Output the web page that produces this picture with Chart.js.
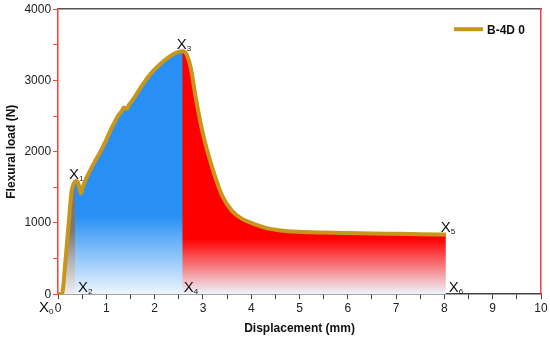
<!DOCTYPE html>
<html>
<head>
<meta charset="utf-8">
<script src="https://cdn.jsdelivr.net/npm/chart.js@4.4.0/dist/chart.umd.min.js"></script>
<style>
  html, body { margin: 0; padding: 0; background: #fff; }
  canvas { display: block; }
</style>
</head>
<body>
<canvas id="flexChart" width="550" height="338"></canvas>
<script>
// Displacement (mm) and flexural load (N)
const displacement = [0, 0.08, 0.15, 0.22, 0.28, 0.33, 0.38, 0.42, 0.47, 0.52, 0.6, 0.75, 0.9, 1.0, 1.1, 1.25, 1.32, 1.36, 1.42, 1.47, 1.55, 1.7, 1.9, 2.1, 2.3, 2.45, 2.58, 2.65, 2.75, 2.85, 3.0, 3.2, 3.4, 3.6, 3.8, 4.0, 4.3, 4.6, 5.0, 5.5, 6.0, 6.5, 7.0, 7.5, 8.03];
const load = [0, 0, 450, 1000, 1450, 1560, 1590, 1550, 1410, 1520, 1650, 1850, 2030, 2170, 2320, 2510, 2570, 2620, 2600, 2660, 2730, 2890, 3080, 3220, 3330, 3390, 3410, 3380, 3170, 2760, 2250, 1760, 1380, 1170, 1060, 1000, 930, 895, 875, 865, 858, 852, 848, 843, 838];

// Stage boundaries (mm) used for the coloured regions
const stageEdges = [0.08, 0.35, 2.58, 8.03];

// Point labels: name, subscript, anchor displacement, anchor load
const markNames = ['X', 'X', 'X', 'X', 'X', 'X', 'X'];
const markSubs = ['0', '1', '2', '3', '4', '5', '6'];
const markX = [0, 0.35, 0.35, 2.58, 2.58, 8.03, 8.03];
const markY = [0, 1590, 0, 3410, 0, 838, 0];

const seriesName = 'B-4D 0';
const xTicksMax = 10;
const yTicksMax = 4000;

const points = displacement.map((d, i) => ({ x: d, y: load[i] }));

function segment(from, to) {
    // Points of the curve inside one stage, interpolating the edges
    const out = [];
    const at = v => {
        for (let i = 1; i < displacement.length; i++) {
            if (displacement[i] >= v) {
                const t = (v - displacement[i - 1]) / (displacement[i] - displacement[i - 1]);
                return load[i - 1] + t * (load[i] - load[i - 1]);
            }
        }
        return load[load.length - 1];
    };
    out.push({ x: from, y: at(from) });
    points.forEach(p => { if (p.x > from && p.x < to) out.push(p); });
    out.push({ x: to, y: at(to) });
    return out;
}

function fader(top, solidTo, colour, light) {
    return (ctx) => {
        const chart = ctx.chart;
        const { chartArea, scales } = chart;
        if (!chartArea) return colour;
        const y0 = scales.y.getPixelForValue(top);
        const y1 = scales.y.getPixelForValue(0);
        const g = chart.ctx.createLinearGradient(0, y0, 0, y1);
        const s = (scales.y.getPixelForValue(solidTo) - y0) / (y1 - y0);
        g.addColorStop(0, colour);
        g.addColorStop(Math.max(0, Math.min(1, s)), colour);
        g.addColorStop(1, light);
        return g;
    };
}

const fillBase = {
    borderWidth: 0,
    pointRadius: 0,
    fill: 'origin',
    tension: 0,
};

const markLabels = {
    id: 'markLabels',
    afterDatasetsDraw(chart) {
        const { ctx, scales } = chart;
        // pixel offsets of the text from each anchor
        const off = [[-19, 18], [-6, -2], [3, -2], [-6, -2], [1, -2], [-5, -2], [3, -2]];
        ctx.save();
        ctx.fillStyle = '#111';
        ctx.textBaseline = 'alphabetic';
        markNames.forEach((n, i) => {
            const px = scales.x.getPixelForValue(markX[i]) + off[i][0];
            const py = scales.y.getPixelForValue(markY[i]) + off[i][1];
            ctx.font = '15px "Liberation Sans", Arial, sans-serif';
            ctx.fillText(n, px, py);
            const w = ctx.measureText(n).width;
            ctx.font = '8px "Liberation Sans", Arial, sans-serif';
            ctx.fillText(markSubs[i], px + w, py + 2);
        });
        ctx.restore();
    }
};

const insideLegend = {
    id: 'insideLegend',
    afterDraw(chart) {
        const { ctx, chartArea } = chart;
        const x = chartArea.right - 87;
        const y = chartArea.top + 20;
        ctx.save();
        ctx.strokeStyle = '#c8961a';
        ctx.lineWidth = 4;
        ctx.beginPath();
        ctx.moveTo(x, y);
        ctx.lineTo(x + 29, y);
        ctx.stroke();
        ctx.fillStyle = '#111';
        ctx.font = 'bold 12px "Liberation Sans", Arial, sans-serif';
        ctx.textBaseline = 'middle';
        ctx.fillText(seriesName, x + 33, y + 1);
        ctx.restore();
    }
};

const ctx = document.getElementById('flexChart').getContext('2d');
new Chart(ctx, {
    type: 'line',
    data: {
        datasets: [
            {
                label: seriesName,
                data: points,
                borderColor: '#c8961a',
                borderWidth: 4,
                pointRadius: 0,
                fill: false,
                cubicInterpolationMode: 'monotone',
            },
            Object.assign({}, fillBase, {
                data: segment(stageEdges[0], stageEdges[1]),
                backgroundColor: fader(1600, 900, 'rgb(120,120,120)', 'rgb(240,240,240)'),
            }),
            Object.assign({}, fillBase, {
                data: segment(stageEdges[1], stageEdges[2]),
                cubicInterpolationMode: 'monotone',
                backgroundColor: fader(3500, 1100, 'rgb(40,144,245)', 'rgb(238,246,253)'),
            }),
            Object.assign({}, fillBase, {
                // starts a hair early so it tucks under the blue and leaves no seam
                data: segment(stageEdges[2] - 0.02, stageEdges[3]),
                cubicInterpolationMode: 'monotone',
                backgroundColor: fader(3500, 780, 'rgb(255,0,0)', 'rgb(238,246,253)'),
            }),
        ]
    },
    options: {
        responsive: false,
        animation: false,
        layout: { padding: { top: 8, right: 9, left: 4, bottom: 2 } },
        plugins: {
            legend: { display: false },
            tooltip: { enabled: false },
        },
        scales: {
            x: {
                type: 'linear',
                min: 0,
                max: xTicksMax,
                ticks: {
                    stepSize: 0.5,
                    autoSkip: false,
                    maxRotation: 0,
                    color: '#222',
                    font: { size: 12, family: '"Liberation Sans", Arial' },
                    padding: 2,
                    callback: v => (v % 1 === 0 ? v : ''),
                },
                grid: { drawOnChartArea: false, color: '#444', tickLength: 5 },
                border: { color: '#444', width: 1.5 },
                title: {
                    display: true,
                    text: 'Displacement (mm)',
                    color: '#111',
                    font: { size: 12, weight: 'bold', family: '"Liberation Sans", Arial' },
                    padding: { top: 4, bottom: 0 },
                },
            },
            xTop: {
                type: 'linear',
                position: 'top',
                min: 0,
                max: xTicksMax,
                ticks: { display: false },
                grid: { display: false, drawTicks: false },
                border: { color: '#555', width: 1.5 },
            },
            y: {
                min: 0,
                max: yTicksMax,
                ticks: {
                    stepSize: 500,
                    autoSkip: false,
                    color: '#222',
                    font: { size: 12, family: '"Liberation Sans", Arial' },
                    padding: 2,
                    callback: v => (v % 1000 === 0 ? v : ''),
                },
                grid: { drawOnChartArea: false, color: '#f04040', tickLength: 5 },
                border: { color: '#f04040', width: 1.5 },
                title: {
                    display: true,
                    text: 'Flexural load (N)',
                    color: '#111',
                    font: { size: 12, weight: 'bold', family: '"Liberation Sans", Arial' },
                    padding: { top: 0, bottom: 4 },
                },
            },
            yRight: {
                position: 'right',
                min: 0,
                max: yTicksMax,
                ticks: { display: false },
                grid: { display: false, drawTicks: false },
                border: { color: '#f04040', width: 1.5 },
            },
        },
    },
    plugins: [markLabels, insideLegend],
});
</script>
</body>
</html>
